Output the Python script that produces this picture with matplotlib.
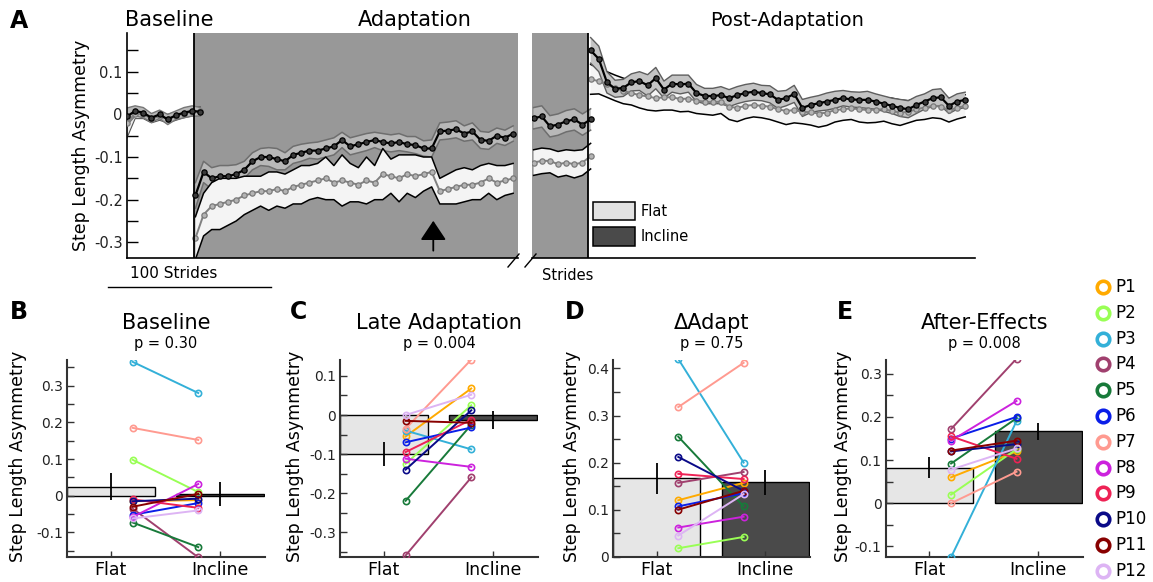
import numpy as np
import matplotlib
matplotlib.use("Agg")
import matplotlib.pyplot as plt
from matplotlib.patches import Rectangle
from matplotlib.lines import Line2D

plt.rcParams['font.family'] = ['DejaVu Sans']
plt.rcParams['axes.unicode_minus'] = False

# ---------------- data: panel A (step length asymmetry time courses) ----------------
STEP = 5
base_x0, adapt_x0, late_x0, post_x0 = 0, 42, 1, 36
base_incl = [-0.005, 0.008, 0.004, -0.008, 0.0, -0.012, -0.002, 0.004, 0.008, 0.006]
base_incl_sem = [0.02, 0.012, 0.012, 0.01, 0.01, 0.012, 0.01, 0.012, 0.012, 0.01]
base_flat = [-0.02, 0.002, 0.0, -0.01, -0.004, -0.01, -0.004, 0.002, 0.006, 0.008]
base_flat_sem = [0.035, 0.012, 0.01, 0.01, 0.01, 0.01, 0.01, 0.01, 0.01, 0.01]

adapt_incl = [-0.19, -0.135, -0.15, -0.145, -0.145, -0.14, -0.13, -0.11, -0.10, -0.10,
              -0.105, -0.11, -0.095, -0.09, -0.085, -0.085, -0.08, -0.075, -0.06, -0.075,
              -0.07, -0.065, -0.06, -0.065, -0.068, -0.065, -0.07, -0.072, -0.08, -0.08,
              -0.04, -0.038, -0.035, -0.045, -0.04, -0.06, -0.062, -0.05, -0.055, -0.045]
adapt_incl_sem = [0.03, 0.025, 0.025, 0.025, 0.025, 0.022, 0.02, 0.02, 0.02, 0.022,
                  0.025, 0.02, 0.02, 0.02, 0.018, 0.02, 0.02, 0.02, 0.018, 0.02,
                  0.02, 0.02, 0.018, 0.02, 0.02, 0.02, 0.018, 0.02, 0.018, 0.02,
                  0.02, 0.02, 0.02, 0.018, 0.02, 0.02, 0.02, 0.018, 0.018, 0.018]
adapt_flat = [-0.29, -0.235, -0.215, -0.21, -0.205, -0.2, -0.19, -0.185, -0.18, -0.18,
              -0.175, -0.18, -0.17, -0.165, -0.16, -0.155, -0.15, -0.16, -0.155, -0.16,
              -0.165, -0.155, -0.16, -0.14, -0.145, -0.15, -0.14, -0.145, -0.14, -0.135,
              -0.18, -0.175, -0.17, -0.165, -0.165, -0.16, -0.15, -0.16, -0.155, -0.15]
adapt_flat_sem = [0.05, 0.05, 0.055, 0.06, 0.055, 0.05, 0.045, 0.04, 0.035, 0.045,
                  0.04, 0.04, 0.04, 0.045, 0.04, 0.04, 0.05, 0.04, 0.06, 0.045,
                  0.04, 0.055, 0.04, 0.06, 0.04, 0.055, 0.045, 0.05, 0.04, 0.035,
                  0.03, 0.035, 0.04, 0.04, 0.035, 0.04, 0.035, 0.04, 0.035, 0.035]

late_incl = [-0.009, -0.005, -0.028, -0.024, -0.016, -0.012, -0.024, -0.012]
late_incl_sem = [0.025, 0.025, 0.025, 0.025, 0.025, 0.025, 0.025, 0.025]
late_flat = [-0.113, -0.109, -0.109, -0.117, -0.113, -0.117, -0.113, -0.098]
late_flat_sem = [0.03, 0.03, 0.028, 0.03, 0.03, 0.032, 0.03, 0.03]

post_incl = [0.15, 0.13, 0.075, 0.06, 0.062, 0.075, 0.078, 0.068, 0.085, 0.058,
             0.072, 0.07, 0.072, 0.05, 0.043, 0.043, 0.045, 0.038, 0.045, 0.05,
             0.053, 0.05, 0.047, 0.034, 0.038, 0.048, 0.015, 0.022, 0.026, 0.03,
             0.034, 0.038, 0.035, 0.034, 0.034, 0.03, 0.025, 0.02, 0.015, 0.012,
             0.022, 0.03, 0.038, 0.04, 0.02, 0.03, 0.034]
post_incl_sem = [0.03, 0.03, 0.025, 0.02, 0.02, 0.02, 0.022, 0.025, 0.025, 0.02,
                 0.02, 0.022, 0.02, 0.02, 0.018, 0.018, 0.02, 0.02, 0.02, 0.02,
                 0.02, 0.018, 0.02, 0.02, 0.018, 0.02, 0.02, 0.018, 0.018, 0.02,
                 0.02, 0.018, 0.018, 0.018, 0.02, 0.018, 0.018, 0.018, 0.02, 0.02,
                 0.02, 0.018, 0.02, 0.02, 0.018, 0.018, 0.018]
post_flat = [0.082, 0.078, 0.07, 0.062, 0.055, 0.05, 0.045, 0.042, 0.038, 0.04,
             0.04, 0.036, 0.037, 0.032, 0.03, 0.028, 0.03, 0.018, 0.015, 0.02,
             0.022, 0.02, 0.018, 0.012, 0.008, 0.01, 0.006, 0.005, 0.002, 0.004,
             0.01, 0.012, 0.014, 0.012, 0.01, 0.011, 0.012, 0.008, 0.004, 0.006,
             0.012, 0.016, 0.02, 0.018, 0.01, 0.015, 0.02]
post_flat_sem = [0.035, 0.03, 0.03, 0.03, 0.03, 0.028, 0.03, 0.032, 0.03, 0.03,
                 0.03, 0.03, 0.03, 0.03, 0.03, 0.03, 0.028, 0.03, 0.032, 0.03,
                 0.028, 0.028, 0.03, 0.03, 0.032, 0.03, 0.028, 0.03, 0.032, 0.03,
                 0.028, 0.026, 0.026, 0.03, 0.03, 0.03, 0.028, 0.03, 0.03, 0.026,
                 0.026, 0.028, 0.028, 0.028, 0.028, 0.026, 0.026]

# ---------------- data: panels B-E ----------------
participants = ['P1', 'P2', 'P3', 'P4', 'P5', 'P6', 'P7', 'P8', 'P9', 'P10', 'P11', 'P12']
p_colors = ['#FFAA00', '#99FF55', '#33B0D8', '#A0406E', '#187A3A', '#0A1EE8',
            '#FF9A90', '#CC22DD', '#EE2255', '#0A0A88', '#880000', '#DDB4F4']
conditions = ['Flat', 'Incline']

base_flat_ind = [-0.015, 0.098, 0.365, -0.035, -0.073, -0.052, 0.185, -0.058, -0.01, -0.015, -0.03, -0.062]
base_incl_ind = [-0.012, 0.01, 0.28, -0.168, -0.14, -0.02, 0.152, 0.032, -0.033, -0.008, 0.005, -0.04]
base_bar = [0.025, 0.004]
base_err = [0.037, 0.033]

late_flat_ind = [-0.055, -0.125, -0.04, -0.36, -0.22, -0.07, -0.035, -0.112, -0.095, -0.14, -0.015, 0.0]
late_incl_ind = [0.068, 0.025, -0.088, -0.16, -0.025, -0.032, 0.142, -0.133, -0.012, 0.012, -0.02, 0.052]
late_bar = [-0.1, -0.013]
late_err = [0.03, 0.022]

dadapt_flat_ind = [0.12, 0.018, 0.42, 0.157, 0.255, 0.107, 0.318, 0.062, 0.176, 0.212, 0.1, 0.045]
dadapt_incl_ind = [0.157, 0.042, 0.2, 0.18, 0.107, 0.135, 0.412, 0.085, 0.165, 0.14, 0.14, 0.133]
dadapt_bar = [0.167, 0.158]
dadapt_err = [0.033, 0.027]

after_flat_ind = [0.06, 0.02, -0.125, 0.172, 0.092, 0.15, 0.0, 0.145, 0.155, 0.12, 0.122, 0.078]
after_incl_ind = [0.12, 0.125, 0.19, 0.335, 0.197, 0.2, 0.073, 0.237, 0.103, 0.137, 0.145, 0.127]
after_bar = [0.082, 0.167]
after_err = [0.024, 0.02]

# ---------------- figure ----------------
W, H = 1153, 582
fig = plt.figure(figsize=(W / 100, H / 100), dpi=100)


def fx(px):
    return px / W


def fy(py):
    return 1 - py / H


def lab(v):
    return '0' if abs(v) < 1e-9 else f'{v:.1f}'


GRAY_BG = '#989898'
YL = (-0.336, 0.19)


def draw_band(ax, x0, mean, sem, fc, ec, elw=1.0, z=2):
    m = np.asarray(mean)
    s = np.asarray(sem)
    x = x0 + STEP * np.arange(len(m))
    ax.fill_between(x, m - s, m + s, facecolor=fc, edgecolor='none', zorder=z)
    ax.plot(x, m + s, color=ec, lw=elw, zorder=z + 0.1)
    ax.plot(x, m - s, color=ec, lw=elw, zorder=z + 0.1)


def draw_mean(ax, x0, mean, kind, z=5):
    m = np.asarray(mean)
    x = x0 + STEP * np.arange(len(m))
    if kind == 'incl':
        ax.plot(x, m, '-', color='black', lw=1.6, zorder=z)
        ax.plot(x, m, 'o', ms=3.8, mfc='#3a3a3a', mec='black', mew=0.9, zorder=z + 0.1)
    else:
        ax.plot(x, m, '-', color='#808080', lw=1.4, zorder=z)
        ax.plot(x, m, 'o', ms=3.8, mfc='#b4b4b4', mec='#7a7a7a', mew=0.9, zorder=z + 0.1)


# Panel A, left part (baseline + adaptation)
ax1 = fig.add_axes([fx(127), fy(257.7), (518 - 127) / W, (257.7 - 33.3) / H])
ax1.set_xlim(0, 240)
ax1.set_ylim(*YL)
for s in ['top', 'right']:
    ax1.spines[s].set_visible(False)
for s in ['left', 'bottom']:
    ax1.spines[s].set_linewidth(1.2)
ax1.axvspan(41, 240, color=GRAY_BG, zorder=0, lw=0)
ax1.axvline(41, color='black', lw=1.3, zorder=6)
major = [-0.3, -0.2, -0.1, 0.0, 0.1]
ax1.set_yticks(major)
ax1.set_yticklabels([lab(v) for v in major], fontsize=10.5, color='#222')
ax1.set_yticks([-0.25, -0.15, -0.05, 0.05, 0.15], minor=True)
ax1.tick_params(axis='y', which='both', direction='in', length=8, width=1, pad=3)
ax1.set_xticks([])

draw_band(ax1, base_x0, base_incl, base_incl_sem, '#b8b8b8', '#777777', 1.0)
draw_band(ax1, base_x0, base_flat, base_flat_sem, '#eeeeee', '#555555', 0.8, z=1.5)
draw_mean(ax1, base_x0, base_flat, 'flat')
draw_mean(ax1, base_x0, base_incl, 'incl', z=6)

draw_band(ax1, adapt_x0, adapt_incl, adapt_incl_sem, '#b8b8b8', '#6e6e6e', 1.1)
draw_band(ax1, adapt_x0, adapt_flat, adapt_flat_sem, '#f4f4f4', 'black', 1.1, z=2.5)
draw_mean(ax1, adapt_x0, adapt_flat, 'flat')
draw_mean(ax1, adapt_x0, adapt_incl, 'incl', z=6)

ax1.annotate('', xy=(188, -0.243), xytext=(188, -0.326),
             arrowprops=dict(arrowstyle='-|>,head_length=0.6,head_width=0.4',
                             color='black', lw=1.3, mutation_scale=20), zorder=8)

# scale bar
ax1.plot([-11.5, 88.5], [-0.404, -0.404], color='black', lw=1.0, clip_on=False)
ax1.text(28.5, -0.372, '100 Strides', ha='center', va='center', fontsize=11)

# Panel A, right part (late adaptation + post-adaptation)
ax2 = fig.add_axes([fx(532), fy(257.7), (975 - 532) / W, (257.7 - 33.3) / H])
ax2.set_xlim(0, 272)
ax2.set_ylim(*YL)
for s in ['top', 'right', 'left']:
    ax2.spines[s].set_visible(False)
ax2.spines['bottom'].set_linewidth(1.2)
ax2.set_xticks([])
ax2.set_yticks([])
ax2.axvspan(0, 34.5, color=GRAY_BG, zorder=0, lw=0)
ax2.axvline(34.5, color='black', lw=1.3, zorder=6)

draw_band(ax2, late_x0, late_incl, late_incl_sem, '#b8b8b8', '#6e6e6e', 1.1)
draw_band(ax2, late_x0, late_flat, late_flat_sem, '#f4f4f4', 'black', 1.1, z=2.5)
draw_mean(ax2, late_x0, late_flat, 'flat')
draw_mean(ax2, late_x0, late_incl, 'incl', z=6)

draw_band(ax2, post_x0, post_flat, post_flat_sem, '#f4f4f4', 'black', 1.1, z=1.5)
draw_band(ax2, post_x0, post_incl, post_incl_sem, '#c4c4c4', '#5e5e5e', 1.0, z=2.5)
draw_mean(ax2, post_x0, post_flat, 'flat')
draw_mean(ax2, post_x0, post_incl, 'incl', z=6)

ax2.text(6, -0.377, 'Strides', ha='left', va='center', fontsize=10.5)

# legend of panel A
ax2.add_patch(Rectangle((0.1377, 0.168), 0.0948, 0.08, transform=ax2.transAxes,
                        facecolor='#e2e2e2', edgecolor='black', lw=1.1, zorder=7))
ax2.add_patch(Rectangle((0.1377, 0.052), 0.0948, 0.085, transform=ax2.transAxes,
                        facecolor='#4a4a4a', edgecolor='black', lw=1.1, zorder=7))
ax2.text(0.246, 0.208, 'Flat', transform=ax2.transAxes, ha='left', va='center', fontsize=10.5)
ax2.text(0.246, 0.095, 'Incline', transform=ax2.transAxes, ha='left', va='center', fontsize=10.5)

# break marks
for x0 in (508, 525):
    fig.add_artist(Line2D([fx(x0), fx(x0 + 11)], [fy(267), fy(254)], color='black', lw=1.0))

# panel A titles and labels
fig.text(fx(169), fy(20), 'Baseline', ha='center', va='center', fontsize=15)
fig.text(fx(415), fy(20), 'Adaptation', ha='center', va='center', fontsize=15)
fig.text(fx(787), fy(20), 'Post-Adaptation', ha='center', va='center', fontsize=14)
fig.text(fx(81), fy(145), 'Step Length Asymmetry', rotation=90, ha='center', va='center', fontsize=12.5)
fig.text(fx(19), fy(21), 'A', ha='center', va='center', fontsize=17, fontweight='bold')


# ---------------- panels B-E ----------------
def bar_panel(ax, bars, errs, flat_ind, incl_ind, ylim, major, minor, title, pval):
    ax.set_xlim(0.6, 2.41)
    ax.set_ylim(*ylim)
    ax.bar([1, 2], bars, width=0.8, color=['#e6e6e6', '#4a4a4a'], edgecolor='black',
           lw=1.0, zorder=1)
    ax.errorbar([1, 2], bars, yerr=errs, fmt='none', ecolor='black', elinewidth=1.3,
                capsize=0, zorder=2)
    for i, col in enumerate(p_colors):
        ax.plot([1.2, 1.8], [flat_ind[i], incl_ind[i]], '-o', color=col, lw=1.4, ms=4.5,
                mfc='none', mec=col, mew=1.2, zorder=3)
    for s in ['top', 'right']:
        ax.spines[s].set_visible(False)
    for s in ['left', 'bottom']:
        ax.spines[s].set_linewidth(1.5)
        ax.spines[s].set_color('#333333')
    ax.set_yticks(major)
    ax.set_yticklabels([lab(v) for v in major], fontsize=10, color='#222')
    ax.set_yticks(minor, minor=True)
    ax.set_xticks([1, 2])
    ax.set_xticklabels(conditions, fontsize=12.5)
    ax.tick_params(axis='y', which='both', direction='in', length=5, width=1, pad=3, color='#333')
    ax.tick_params(axis='x', direction='in', length=4, width=1, pad=3, color='#333')
    ax.text(0.5, 1.19, title, transform=ax.transAxes, ha='center', va='center', fontsize=15)
    ax.text(0.5, 1.086, pval, transform=ax.transAxes, ha='center', va='center', fontsize=10.5)


axB = fig.add_axes([fx(67), fy(557), 198 / W, 197 / H])
bar_panel(axB, base_bar, base_err, base_flat_ind, base_incl_ind, (-0.167, 0.37),
          [-0.1, 0, 0.1, 0.2, 0.3], [-0.15, -0.05, 0.05, 0.15, 0.25, 0.35], 'Baseline', 'p = 0.30')
axC = fig.add_axes([fx(340), fy(557), 198 / W, 197 / H])
bar_panel(axC, late_bar, late_err, late_flat_ind, late_incl_ind, (-0.364, 0.141),
          [-0.3, -0.2, -0.1, 0, 0.1], [-0.35, -0.25, -0.15, -0.05, 0.05], 'Late Adaptation', 'p = 0.004')
axD = fig.add_axes([fx(613), fy(556.7), 197 / W, 196.7 / H])
bar_panel(axD, dadapt_bar, dadapt_err, dadapt_flat_ind, dadapt_incl_ind, (0, 0.418),
          [0, 0.1, 0.2, 0.3, 0.4], [0.05, 0.15, 0.25, 0.35], '\u0394Adapt', 'p = 0.75')
axE = fig.add_axes([fx(885.7), fy(556.7), 197.3 / W, 196.7 / H])
bar_panel(axE, after_bar, after_err, after_flat_ind, after_incl_ind, (-0.124, 0.332),
          [-0.1, 0, 0.1, 0.2, 0.3], [-0.05, 0.05, 0.15, 0.25], 'After-Effects', 'p = 0.008')

for xc in (18.5, 295, 572, 843.5):
    fig.text(fx(xc), fy(456), 'Step Length Asymmetry', rotation=90, ha='center', va='center', fontsize=12.5)
for letter, xc in (('B', 19), ('C', 299), ('D', 575), ('E', 845)):
    fig.text(fx(xc), fy(312), letter, ha='center', va='center', fontsize=17, fontweight='bold')

# participant legend
for i, (name, col) in enumerate(zip(participants, p_colors)):
    py = 287 + 25.8 * i
    fig.add_artist(Line2D([fx(1103)], [fy(py)], marker='o', ms=9, mfc='none', mec=col, mew=2.6))
    fig.text(fx(1115), fy(py), name, ha='left', va='center', fontsize=12)

fig.savefig('out.png', dpi=100)
